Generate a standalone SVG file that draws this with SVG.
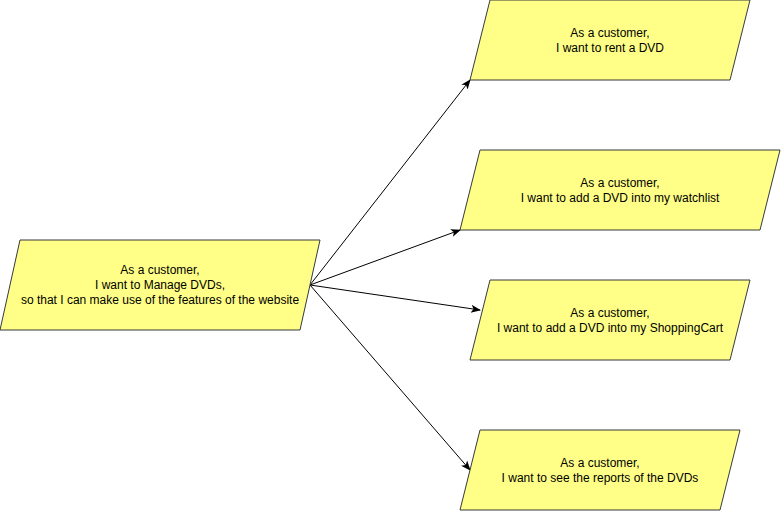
<svg xmlns="http://www.w3.org/2000/svg" width="781" height="511" viewBox="0 0 781 511">
<style>
.n{fill:#ffff88;stroke:#36393d;stroke-width:1}
.t{font-family:"Liberation Sans",Arial,sans-serif;font-size:12px;fill:#000;text-anchor:middle}
.c{stroke:#000;stroke-width:1;fill:none;marker-end:url(#a)}
</style>
<defs>
<marker id="a" viewBox="0 0 10 10" refX="9" refY="5" markerWidth="10" markerHeight="10" markerUnits="userSpaceOnUse" orient="auto">
<path d="M0,1 L10,5 L0,9 L2.5,5 Z" fill="#000"/>
</marker>
</defs>
<rect width="781" height="511" fill="#fff"/>
<g id="connectors">
<line class="c" x1="310" y1="285" x2="470" y2="80"/>
<line class="c" x1="310" y1="285" x2="460" y2="230"/>
<line class="c" x1="310" y1="285" x2="480" y2="310"/>
<line class="c" x1="310" y1="285" x2="470" y2="470"/>
</g>
<g id="main">
<polygon class="n" points="20,240 320,240 300,330 0,330"/>
<text class="t" x="160" y="274">As a customer,</text>
<text class="t" x="160" y="289">I want to Manage DVDs,</text>
<text class="t" x="160" y="304">so that I can make use of the features of the website</text>
</g>
<g id="rent">
<polygon class="n" points="490,0 750,0 730,80 470,80"/>
<text class="t" x="610" y="37">As a customer,</text>
<text class="t" x="610" y="52">I want to rent a DVD</text>
</g>
<g id="watchlist">
<polygon class="n" points="480,150 780,150 760,230 460,230"/>
<text class="t" x="620" y="187">As a customer,</text>
<text class="t" x="620" y="202">I want to add a DVD into my watchlist</text>
</g>
<g id="cart">
<polygon class="n" points="490,280 750,280 730,360 470,360"/>
<text class="t" x="610" y="317">As a customer,</text>
<text class="t" x="610" y="332">I want to add a DVD into my ShoppingCart</text>
</g>
<g id="reports">
<polygon class="n" points="480,430 740,430 720,510 460,510"/>
<text class="t" x="600" y="467">As a customer,</text>
<text class="t" x="600" y="482">I want to see the reports of the DVDs</text>
</g>
</svg>
